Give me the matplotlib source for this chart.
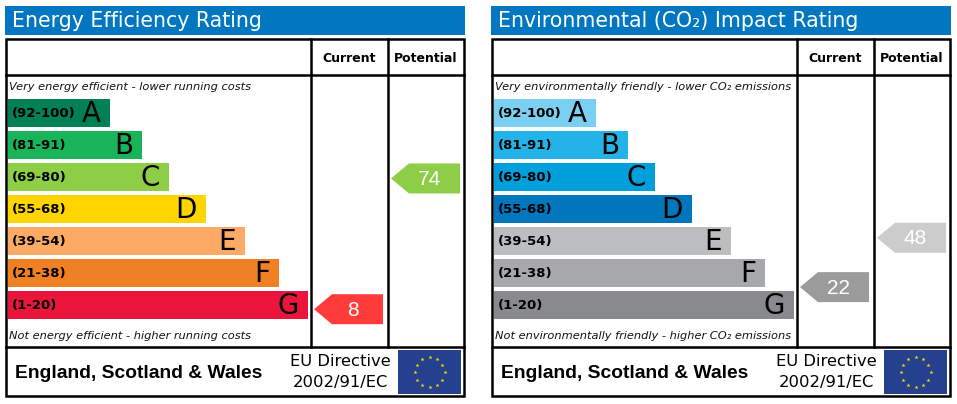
import matplotlib
matplotlib.use("Agg")
import matplotlib.pyplot as plt
from matplotlib.patches import Rectangle, Polygon
import numpy as np

# rating bands, best to worst
bands = ["A", "B", "C", "D", "E", "F", "G"]
band_ranges = ["(92-100)", "(81-91)", "(69-80)", "(55-68)", "(39-54)", "(21-38)", "(1-20)"]
band_lo = [92, 81, 69, 55, 39, 21, 1]
band_hi = [100, 91, 80, 68, 54, 38, 20]

ee_colors = ["#008054", "#19b459", "#8dce46", "#ffd500", "#fcaa65", "#ef8023", "#e9153b"]
co2_colors = ["#7bcff3", "#24b3e8", "#009fdb", "#0076bd", "#bbbdbf", "#a6a8ab", "#898a8d"]

ee_current, ee_potential = 8, 74
co2_current, co2_potential = 22, 48
ee_arrow_colors = ["#ff3b3b", "#8dce46"]
co2_arrow_colors = ["#9b9b9b", "#cccccc"]

# layout (pixels, relative to panel left edge)
bar_len = [102, 134, 161, 198, 237, 271, 300]
bar_top0, bar_step, bar_h = 99, 32, 28

fig = plt.figure(figsize=(9.57, 4.04), dpi=100)
ax = fig.add_axes([0, 0, 1, 1])
ax.set_xlim(0, 957)
ax.set_ylim(404, 0)
ax.axis("off")

LW = 1.8


def value_y(v):
    i = next(k for k in range(len(bands)) if band_lo[k] <= v <= band_hi[k])
    frac = (v - band_lo[i]) / (band_hi[i] - band_lo[i])
    return bar_top0 + i * bar_step + bar_h / 2 + (0.5 - frac) * bar_step


def arrow(x0, x1, v, color):
    yc = value_y(v)
    pts = [(x0, yc), (x0 + 18, yc - 15), (x1, yc - 15), (x1, yc + 15), (x0 + 18, yc + 15)]
    ax.add_patch(Polygon(pts, closed=True, facecolor=color, edgecolor="none"))
    ax.text((x0 + 8 + x1) / 2, yc + 1, str(v), color="white", fontsize=15,
            family="Liberation Sans", ha="center", va="center")


def eu_flag(x0, y0, w, h):
    ax.add_patch(Rectangle((x0, y0), w, h, facecolor="#24408e", edgecolor="none"))
    cx, cy = x0 + w / 2, y0 + h / 2
    ang = np.arange(12) * np.pi / 6
    ax.scatter(cx + 15 * np.cos(ang), cy + 15 * np.sin(ang), marker="*", s=9,
               color="#ffdd00", linewidths=0, zorder=3)


def panel(ox, title, top_note, bottom_note, colors, current, potential, acol):
    # title bar
    ax.add_patch(Rectangle((ox, 6), 460, 29, facecolor="#0077c0", edgecolor="none"))
    ax.text(ox + 7, 21, title, color="white", fontsize=14.8, ha="left", va="center")
    # frame
    ax.add_patch(Rectangle((ox + 1, 39), 458, 357, fill=False, edgecolor="black", lw=LW))
    c1, c2 = ox + 306, ox + 383
    ax.plot([ox + 1, ox + 459], [75, 75], color="black", lw=LW)
    ax.plot([ox + 1, ox + 459], [347, 347], color="black", lw=LW)
    for cx in (c1, c2):
        ax.plot([cx, cx], [39, 347], color="black", lw=LW)
    ax.text((c1 + c2) / 2, 58, "Current", fontsize=9, weight="bold", ha="center", va="center")
    ax.text((c2 + ox + 459) / 2, 58, "Potential", fontsize=9, weight="bold",
            ha="center", va="center")
    ax.text(ox + 4, 87, top_note, fontsize=8.2, style="italic", ha="left", va="center",
            color="#111111")
    ax.text(ox + 4, 336, bottom_note, fontsize=8.2, style="italic", ha="left", va="center",
            color="#111111")
    # bands
    for i, b in enumerate(bands):
        y = bar_top0 + i * bar_step
        ax.add_patch(Rectangle((ox + 3, y), bar_len[i], bar_h, facecolor=colors[i],
                               edgecolor="none"))
        ax.text(ox + 7, y + bar_h / 2 + 1, band_ranges[i], fontsize=9.5, weight="bold",
                ha="left", va="center")
        ax.text(ox + bar_len[i] - 6, y + bar_h / 2 + 1, b, fontsize=20,
                ha="right", va="center")
    arrow(c1 + 3, c2 - 5, current, acol[0])
    arrow(c2 + 3, ox + 455, potential, acol[1])
    # footer
    ax.text(ox + 10, 373, "England, Scotland & Wales", fontsize=13.9, weight="bold",
            family="Liberation Sans", ha="left", va="center")
    ax.text(ox + 335, 362, "EU Directive", fontsize=11.8, ha="center", va="center")
    ax.text(ox + 335, 383, "2002/91/EC", fontsize=11.8, ha="center", va="center")
    eu_flag(ox + 393, 350, 63, 44)


panel(5, "Energy Efficiency Rating", "Very energy efficient - lower running costs",
      "Not energy efficient - higher running costs", ee_colors, ee_current, ee_potential,
      ee_arrow_colors)
panel(491, "Environmental (CO\u2082) Impact Rating",
      "Very environmentally friendly - lower CO\u2082 emissions",
      "Not environmentally friendly - higher CO\u2082 emissions", co2_colors, co2_current,
      co2_potential, co2_arrow_colors)

fig.savefig("out.png", dpi=100)
